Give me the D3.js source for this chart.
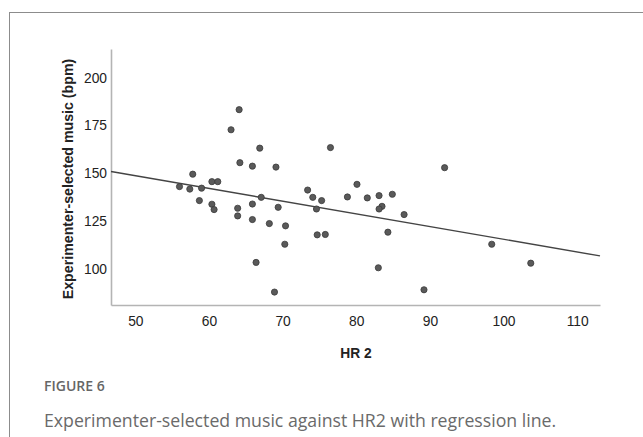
<!DOCTYPE html>
<html>
<head>
<meta charset="utf-8">
<script src="https://cdn.jsdelivr.net/npm/d3@7/dist/d3.min.js"></script>
<style>
  html, body { margin: 0; padding: 0; background: #fff; }
  svg { display: block; }
</style>
</head>
<body>
<svg id="chart" width="643" height="437"></svg>
<script>
// HR 2 (x) and experimenter-selected music tempo in bpm (y), one entry per participant
const hr2 = [56.0, 57.4, 57.8, 59.0, 58.7, 60.4, 61.2, 60.4, 60.7, 63.0, 64.1, 64.2,
  63.9, 63.9, 65.9, 66.9, 67.1, 65.9, 65.9, 66.4, 68.2, 69.1, 69.4, 68.9,
  70.4, 70.3, 76.5, 73.4, 74.1, 75.3, 74.6, 74.7, 75.8, 78.8, 80.1, 81.5,
  83.1, 83.5, 83.1, 84.9, 86.5, 84.3, 83.0, 89.2, 92.0, 98.4, 103.7];
const musicBpm = [143.1, 141.8, 149.6, 142.3, 135.8, 145.7, 145.7, 133.9, 131.1, 172.8, 183.3, 155.6,
  131.8, 127.8, 153.8, 163.2, 137.5, 134.0, 125.9, 103.5, 123.8, 153.3, 132.3, 88.0,
  122.6, 113.0, 163.5, 141.3, 137.5, 135.8, 131.4, 117.9, 118.1, 137.7, 144.3, 137.2,
  138.4, 132.8, 131.4, 139.1, 128.5, 119.3, 100.7, 89.2, 153.0, 113.0, 103.1];

// fitted regression line: predicted bpm at both ends of the x range
const fitX = [46.7, 113.1];
const fitY = [151.0, 106.9];

const xTicks = [50, 60, 70, 80, 90, 100, 110];
const yTicks = [100, 125, 150, 175, 200];

const svg = d3.select("#chart");

// outer figure frame
svg.append("rect")
  .attr("x", 9.5).attr("y", 12.5)
  .attr("width", 700).attr("height", 500)
  .attr("fill", "none").attr("stroke", "#8c8c8c").attr("stroke-width", 1);

const plotLeft = 111, plotRight = 600, plotTop = 49, plotBottom = 305;

const x = d3.scaleLinear().domain([46.7, 113.1]).range([plotLeft, plotRight]);
const y = d3.scaleLinear().domain([81.25, 215]).range([plotBottom, plotTop]);

// axes
const xAxis = svg.append("g")
  .attr("transform", `translate(0,${plotBottom})`)
  .call(d3.axisBottom(x).tickValues(xTicks).tickSize(0).tickPadding(11));
const yAxis = svg.append("g")
  .attr("transform", `translate(${plotLeft},0)`)
  .call(d3.axisLeft(y).tickValues(yTicks).tickSize(0).tickPadding(4));

[xAxis, yAxis].forEach(g => {
  g.select(".domain").attr("stroke", "#b4b4b4").attr("stroke-width", 1.6);
  g.selectAll("text")
    .attr("font-family", "'Liberation Sans', Arial, sans-serif")
    .attr("font-size", 13.8)
    .attr("fill", "#222");
});

// regression line
svg.append("line")
  .attr("x1", x(fitX[0])).attr("y1", y(fitY[0]))
  .attr("x2", x(fitX[1])).attr("y2", y(fitY[1]))
  .attr("stroke", "#444").attr("stroke-width", 1.4);

// scatter points
svg.append("g").selectAll("circle")
  .data(hr2.map((v, i) => [v, musicBpm[i]]))
  .join("circle")
  .attr("cx", d => x(d[0]))
  .attr("cy", d => y(d[1]))
  .attr("r", 3.1)
  .attr("fill", "#5a5a5a")
  .attr("stroke", "#3a3a3a")
  .attr("stroke-width", 0.8);

// axis titles
svg.append("text")
  .attr("x", 356).attr("y", 358)
  .attr("text-anchor", "middle")
  .attr("font-family", "'Liberation Sans', Arial, sans-serif")
  .attr("font-size", 13.8).attr("font-weight", "bold").attr("fill", "#222")
  .text("HR 2");

svg.append("text")
  .attr("transform", "translate(73,179) rotate(-90)")
  .attr("text-anchor", "middle")
  .attr("font-family", "'Liberation Sans', Arial, sans-serif")
  .attr("font-size", 14.2).attr("font-weight", "bold").attr("fill", "#222")
  .text("Experimenter-selected music (bpm)");

// caption
svg.append("text")
  .attr("x", 44).attr("y", 391)
  .attr("font-family", "'Open Sans', sans-serif")
  .attr("font-size", 14).attr("font-weight", 600).attr("fill", "#666")
  .text("FIGURE 6");

svg.append("text")
  .attr("x", 44).attr("y", 427)
  .attr("font-family", "'Open Sans', sans-serif")
  .attr("font-size", 17.7).attr("fill", "#6a6a6a")
  .text("Experimenter-selected music against HR2 with regression line.");
</script>
</body>
</html>
